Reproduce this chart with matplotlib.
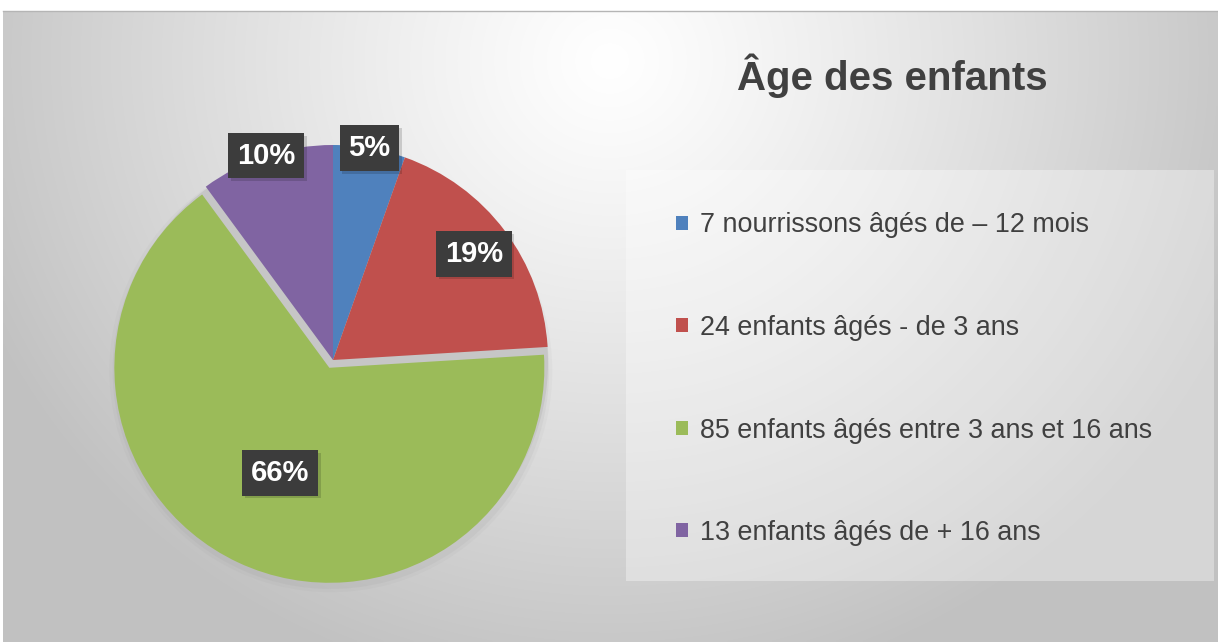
import numpy as np
import matplotlib
matplotlib.use("Agg")
import matplotlib.pyplot as plt
import matplotlib.patheffects as pe
from matplotlib.patches import Rectangle, Circle

# data
labels = [
    "7 nourrissons âgés de – 12 mois",
    "24 enfants âgés - de 3 ans",
    "85 enfants âgés entre 3 ans et 16 ans",
    "13 enfants âgés de + 16 ans",
]
counts = [7, 24, 85, 13]
pct_labels = ["5%", "19%", "66%", "10%"]
colors = ["#4F81BD", "#C0504D", "#9BBB59", "#8064A2"]
explode = [0, 0, 0.04, 0]
label_dist = [1.0, 0.82, 0.54, 1.0]

plt.rcParams["font.family"] = ["Liberation Sans", "DejaVu Sans"]

W, H = 1218, 642
fig = plt.figure(figsize=(W / 100, H / 100), dpi=100)
fig.patch.set_facecolor("white")

# background gradient
bg = fig.add_axes([0, 0, 1, 1])
bg.set_xlim(0, W)
bg.set_ylim(H, 0)
bg.axis("off")
xs = np.linspace(3, W, 400)
ys = np.linspace(11, H, 220)
X, Y = np.meshgrid(xs, ys)
r = np.sqrt(((X - 610) / 680) ** 2 + ((Y - 60) / 640) ** 2)
v = 1 - 0.24 * np.clip(r, 0, 1) ** 1.15
img = np.dstack([v, v, v])
bg.imshow(img, extent=(3, W, H, 11), aspect="auto", interpolation="bilinear")
bg.plot([3, W], [11, 11], color="#b5b5b5", lw=1)

# legend panel
bg.add_patch(Rectangle((626, 170), 588, 411, facecolor="white", alpha=0.35, lw=0))

bg.text(892, 76, "Âge des enfants", ha="center", va="center",
        fontsize=29, fontweight="bold", color="#404040")

# pie
ax = fig.add_axes([75 / W, 24 / H, 516 / W, 516 / H])
ax.axis("off")

# soft shadow under the pie
for k, a in [(1.03, 0.05), (1.015, 0.08)]:
    ax.add_patch(Circle((-0.01, -0.05), k, color="#808080", alpha=a, lw=0))
ax.add_patch(Circle((0.0, -0.012), 1.0, color="#c6c6c6", lw=0))

wedges, _ = ax.pie(counts, colors=colors, startangle=90, counterclock=False,
                   explode=explode, radius=1, wedgeprops=dict(linewidth=0))
ax.set_xlim(-1.2, 1.2)
ax.set_ylim(-1.2, 1.2)

for w, txt, d in zip(wedges, pct_labels, label_dist):
    ang = np.deg2rad((w.theta1 + w.theta2) / 2)
    cx, cy = w.center
    x = cx + d * np.cos(ang)
    y = cy + d * np.sin(ang)
    t = ax.text(x, y, txt, ha="center", va="center", fontsize=21,
                fontweight="bold", color="white",
                bbox=dict(boxstyle="square,pad=0.3", fc="#3c3c3c", ec="none"))
    t.get_bbox_patch().set_path_effects(
        [pe.SimplePatchShadow(offset=(2, -2), shadow_rgbFace="black", alpha=0.15),
         pe.Normal()])

fig.legend(wedges, labels, loc="upper left",
           bbox_to_anchor=(663 / W, 1 - 199 / H),
           frameon=False, fontsize=19.4, labelcolor="#404040",
           handlelength=0.42, handleheight=0.42, handletextpad=0.45,
           labelspacing=2.84, borderpad=0)

fig.savefig("out.png", dpi=100)
